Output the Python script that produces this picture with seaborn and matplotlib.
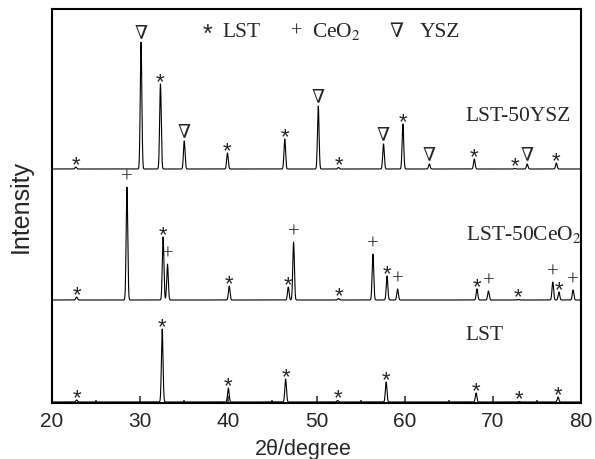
import numpy as np
import pandas as pd
import matplotlib.pyplot as plt
import seaborn as sns

# 2theta axis
two_theta = np.linspace(20, 80, 4001)

# peak positions, heights and phase per sample (L = LST, C = CeO2, Y = YSZ)
ysz_pos = [22.7, 30.1, 32.3, 35.0, 39.9, 46.4, 50.2, 52.5, 57.6, 59.8, 62.8, 67.9, 72.5, 73.9, 77.2]
ysz_height = [2, 127, 85, 28, 16, 30, 63, 1.5, 25, 45, 5, 10, 0.5, 5, 6]
ysz_phase = ['L', 'Y', 'L', 'Y', 'L', 'L', 'Y', 'L', 'Y', 'L', 'Y', 'L', 'L', 'Y', 'L']

ceo_pos = [22.8, 28.5, 32.6, 33.1, 40.1, 46.8, 47.4, 52.5, 56.4, 58.0, 59.2, 68.2, 69.5, 72.9, 76.8, 77.5, 79.1]
ceo_height = [3, 113, 63, 36, 14, 13, 58, 1.5, 46, 24, 11, 11, 9, 0.5, 18, 8, 10]
ceo_phase = ['L', 'C', 'L', 'C', 'L', 'L', 'C', 'L', 'C', 'L', 'C', 'L', 'C', 'L', 'C', 'L', 'C']

lst_pos = [22.8, 32.5, 40.0, 46.5, 52.4, 57.9, 68.1, 73.0, 77.4]
lst_height = [2, 73, 14, 23, 1.5, 20, 9, 0.5, 5]
lst_phase = ['L', 'L', 'L', 'L', 'L', 'L', 'L', 'L', 'L']

sample_names = ['LST-50YSZ', 'LST-50CeO$_2$', 'LST']
sample_offsets = [234, 103, 1]
sample_label_y = [283, 164, 64]

legend_symbols = ['*', '+', '∇']
legend_names = ['LST', 'CeO$_2$', 'YSZ']

pad = {'L': -3, 'C': 5, 'Y': 5}
SANS = ['Liberation Sans', 'DejaVu Sans']
SERIF = ['Liberation Serif', 'DejaVu Serif']


def pattern(pos, height, offset, width=0.09):
    y = np.full_like(two_theta, float(offset))
    for p, h in zip(pos, height):
        y += h * np.exp(-0.5 * ((two_theta - p) / width) ** 2)
    return y


sns.set_style("ticks")
plt.rcParams['mathtext.fontset'] = 'stix'
plt.rcParams['font.family'] = SANS

fig = plt.figure(figsize=(5.95, 4.6), dpi=100)
ax = fig.add_axes([52 / 595, 56 / 460, 529 / 595, 394 / 460])

samples = [(ysz_pos, ysz_height, ysz_phase), (ceo_pos, ceo_height, ceo_phase), (lst_pos, lst_height, lst_phase)]
frames = []
for name, off, (pos, h, ph) in zip(sample_names, sample_offsets, samples):
    frames.append(pd.DataFrame({'two_theta': two_theta,
                                'intensity': pattern(pos, h, off),
                                'sample': name}))
df = pd.concat(frames, ignore_index=True)

sns.lineplot(data=df, x='two_theta', y='intensity', hue='sample', estimator=None,
             palette={n: 'black' for n in sample_names}, linewidth=0.8, legend=False, ax=ax)

# phase markers above peaks
for off, (pos, h, ph) in zip(sample_offsets, samples):
    for p, hh, f in zip(pos, h, ph):
        top = off + hh
        if f == 'L':
            ax.text(p, top + pad[f], '*', ha='center', va='baseline', fontsize=16, family=SANS)
        elif f == 'C':
            ax.text(p, top + pad[f], '+', ha='center', va='baseline', fontsize=15, family=SERIF)
        else:
            ax.text(p, top + pad[f], '∇', ha='center', va='baseline', fontsize=13.5, family=SERIF)

# sample names
for name, ly in zip(sample_names, sample_label_y):
    ax.text(66.9, ly, name, ha='left', va='baseline', fontsize=15.5, family=SERIF)

# symbol legend at the top
legend_x = [(207, 222), (297, 312), (397, 420)]
for (sx, tx), s, n in zip(legend_x, legend_symbols, legend_names):
    if s == '*':
        fig.text(sx / 595, 1 - 42 / 460, s, ha='center', va='baseline', fontsize=18, family=SANS)
    else:
        fig.text(sx / 595, 1 - 37 / 460, s, ha='center', va='baseline', fontsize=14.5, family=SERIF)
    fig.text(tx / 595, 1 - 37 / 460, n, ha='left', va='baseline', fontsize=15.5, family=SERIF)

ax.set_xlim(20, 80)
ax.set_ylim(0, 394)
ax.set_xticks([20, 30, 40, 50, 60, 70, 80])
ax.set_xticks(np.arange(25, 80, 10), minor=True)
ax.set_yticks([])
ax.tick_params(axis='x', which='major', direction='in', length=5, width=1.1, labelsize=15, pad=6)
ax.tick_params(axis='x', which='minor', direction='in', length=2.5, width=1.1)
for s in ax.spines.values():
    s.set_visible(True)
    s.set_linewidth(1.5)
    s.set_color('black')

ax.set_xlabel('2θ/degree', fontsize=15.5)
ax.set_ylabel('Intensity', fontsize=18)
ax.xaxis.set_label_coords(0.476, -0.088)
ax.yaxis.set_label_coords(-0.036, 0.5)

fig.savefig('out.png', dpi=100)
